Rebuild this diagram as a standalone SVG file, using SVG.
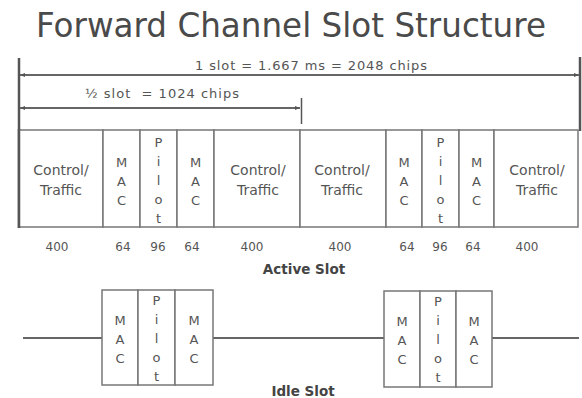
<svg xmlns="http://www.w3.org/2000/svg" width="582" height="398" viewBox="0 0 582 398">
<style>
text{font-family:"DejaVu Sans","Verdana",sans-serif;fill:#555}
.title{font-size:33px;fill:#4a4a4a}
.lbl{font-size:13px}
.num{font-size:12px;text-anchor:middle}
.ct{font-size:14px;text-anchor:middle}
.v{font-size:13px;text-anchor:middle}
.b{font-size:13.5px;font-weight:bold;text-anchor:middle;fill:#444}
.cell{fill:#fff;stroke:#777;stroke-width:1.5}
.ln{stroke:#666;stroke-width:2;fill:none}
.bar{stroke:#555;stroke-width:2.5;fill:none}
</style>
<defs>
<marker id="ah" viewBox="0 0 10 10" refX="10" refY="5" markerWidth="5" markerHeight="5" orient="auto-start-reverse" markerUnits="userSpaceOnUse">
<path d="M0,1 L10,5 L0,9 z" fill="#555"/>
</marker>
</defs>
<rect width="582" height="398" fill="#fff"/>
<text class="title" x="291" y="37" text-anchor="middle" textLength="510" lengthAdjust="spacingAndGlyphs">Forward Channel Slot Structure</text>

<g id="connectors">
<line class="bar" x1="19" y1="58" x2="19" y2="228"/>
<line class="bar" x1="580" y1="57" x2="580" y2="131"/>
<line class="ln" x1="20" y1="75" x2="579" y2="75" marker-start="url(#ah)" marker-end="url(#ah)"/>
<line class="ln" x1="20" y1="108" x2="300" y2="108" marker-start="url(#ah)" marker-end="url(#ah)"/>
<line class="bar" x1="301.5" y1="98" x2="301.5" y2="124" style="stroke-width:1.5"/>
<line class="ln" x1="23" y1="338" x2="102" y2="338"/>
<line class="ln" x1="213" y1="338" x2="384" y2="338"/>
<line class="ln" x1="492" y1="338" x2="579" y2="338"/>
</g>

<text class="lbl" x="311" y="70" text-anchor="middle" textLength="232" lengthAdjust="spacing">1 slot = 1.667 ms = 2048 chips</text>
<text class="lbl" x="162" y="98" text-anchor="middle" textLength="154" lengthAdjust="spacing" xml:space="preserve">½ slot  = 1024 chips</text>

<g id="active-slot">
<g id="a-ct1"><rect class="cell" x="19" y="130" width="84" height="97"/><text class="ct" x="61" y="175">Control/</text><text class="ct" x="61" y="195">Traffic</text></g>
<g id="a-mac1"><rect class="cell" x="103" y="130" width="37" height="97"/><text class="v" x="121.5" y="166.5">M</text><text class="v" x="121.5" y="185.5">A</text><text class="v" x="121.5" y="204.5">C</text></g>
<g id="a-pilot1"><rect class="cell" x="140" y="130" width="37" height="97"/><text class="v" x="158.5" y="147">P</text><text class="v" x="158.5" y="166">i</text><text class="v" x="158.5" y="185">l</text><text class="v" x="158.5" y="204">o</text><text class="v" x="158.5" y="223">t</text></g>
<g id="a-mac2"><rect class="cell" x="177" y="130" width="37" height="97"/><text class="v" x="195.5" y="166.5">M</text><text class="v" x="195.5" y="185.5">A</text><text class="v" x="195.5" y="204.5">C</text></g>
<g id="a-ct2"><rect class="cell" x="214" y="130" width="86" height="97"/><text class="ct" x="258" y="175">Control/</text><text class="ct" x="258" y="195">Traffic</text></g>
<g id="a-ct3"><rect class="cell" x="300" y="130" width="86" height="97"/><text class="ct" x="342" y="175">Control/</text><text class="ct" x="342" y="195">Traffic</text></g>
<g id="a-mac3"><rect class="cell" x="386" y="130" width="36" height="97"/><text class="v" x="404" y="166.5">M</text><text class="v" x="404" y="185.5">A</text><text class="v" x="404" y="204.5">C</text></g>
<g id="a-pilot2"><rect class="cell" x="422" y="130" width="37" height="97"/><text class="v" x="440.5" y="147">P</text><text class="v" x="440.5" y="166">i</text><text class="v" x="440.5" y="185">l</text><text class="v" x="440.5" y="204">o</text><text class="v" x="440.5" y="223">t</text></g>
<g id="a-mac4"><rect class="cell" x="459" y="130" width="35" height="97"/><text class="v" x="476.5" y="166.5">M</text><text class="v" x="476.5" y="185.5">A</text><text class="v" x="476.5" y="204.5">C</text></g>
<g id="a-ct4"><rect class="cell" x="494" y="130" width="84" height="97"/><text class="ct" x="537" y="175">Control/</text><text class="ct" x="537" y="195">Traffic</text></g>
<line class="bar" x1="19" y1="129" x2="19" y2="228"/>
</g>

<g id="numbers">
<text class="num" x="57" y="251">400</text>
<text class="num" x="123" y="251">64</text>
<text class="num" x="158" y="251">96</text>
<text class="num" x="192" y="251">64</text>
<text class="num" x="252" y="251">400</text>
<text class="num" x="340" y="251">400</text>
<text class="num" x="407" y="251">64</text>
<text class="num" x="440" y="251">96</text>
<text class="num" x="473" y="251">64</text>
<text class="num" x="527" y="251">400</text>
</g>
<text class="b" x="304" y="274">Active Slot</text>

<g id="idle-slot">
<g id="i-mac1"><rect class="cell" x="102" y="290" width="36" height="95"/><text class="v" x="120" y="324.5">M</text><text class="v" x="120" y="343.5">A</text><text class="v" x="120" y="362.5">C</text></g>
<g id="i-pilot1"><rect class="cell" x="138" y="290" width="37" height="95"/><text class="v" x="156.5" y="305">P</text><text class="v" x="156.5" y="324">i</text><text class="v" x="156.5" y="343">l</text><text class="v" x="156.5" y="362">o</text><text class="v" x="156.5" y="381">t</text></g>
<g id="i-mac2"><rect class="cell" x="175" y="290" width="38" height="95"/><text class="v" x="194" y="324.5">M</text><text class="v" x="194" y="343.5">A</text><text class="v" x="194" y="362.5">C</text></g>
<g id="i-mac3"><rect class="cell" x="384" y="291" width="36" height="96"/><text class="v" x="402" y="325.5">M</text><text class="v" x="402" y="344.5">A</text><text class="v" x="402" y="363.5">C</text></g>
<g id="i-pilot2"><rect class="cell" x="420" y="291" width="36" height="96"/><text class="v" x="438" y="306">P</text><text class="v" x="438" y="325">i</text><text class="v" x="438" y="344">l</text><text class="v" x="438" y="363">o</text><text class="v" x="438" y="382">t</text></g>
<g id="i-mac4"><rect class="cell" x="456" y="291" width="36" height="96"/><text class="v" x="474" y="325.5">M</text><text class="v" x="474" y="344.5">A</text><text class="v" x="474" y="363.5">C</text></g>
</g>
<text class="b" x="303" y="396">Idle Slot</text>
</svg>
